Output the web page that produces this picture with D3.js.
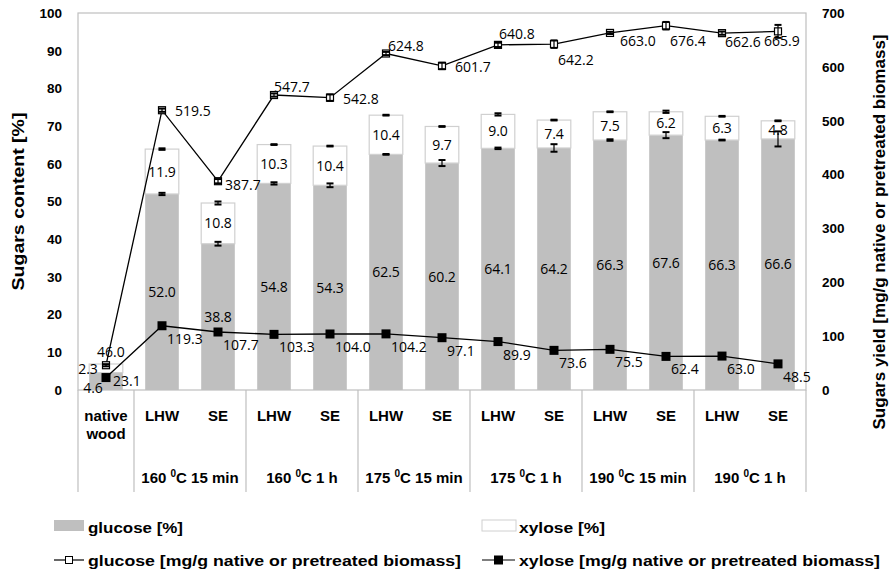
<!DOCTYPE html>
<html>
<head>
<meta charset="utf-8">
<script src="https://cdn.jsdelivr.net/npm/d3@7"></script>
<style>
  body { margin: 0; background: #fff; }
  svg { display: block; }
  .tick-lbl { font-family: "Liberation Sans", Arial, sans-serif; font-weight: bold; font-size: 13.5px; fill: #000; }
  .val { font-family: "Open Sans", sans-serif; font-size: 14px; fill: #000; }
  .cat { font-family: "Liberation Sans", Arial, sans-serif; font-weight: bold; font-size: 15px; fill: #000; }
  .leg { font-family: "Liberation Sans", Arial, sans-serif; font-weight: bold; font-size: 15.5px; fill: #000; }
  .ttl { font-family: "Liberation Sans", Arial, sans-serif; font-weight: bold; font-size: 17px; fill: #000; }
</style>
</head>
<body>
<div id="chart"></div>
<script>
// data
const categories = ['native wood','LHW','SE','LHW','SE','LHW','SE','LHW','SE','LHW','SE','LHW','SE'];
const groups = ['160 |C 15 min','160 |C 1 h','175 |C 15 min','175 |C 1 h','190 |C 15 min','190 |C 1 h'];
const glucosePct = [4.6, 52.0, 38.8, 54.8, 54.3, 62.5, 60.2, 64.1, 64.2, 66.3, 67.6, 66.3, 66.6];
const xylosePct  = [2.3, 11.9, 10.8, 10.3, 10.4, 10.4, 9.7, 9.0, 7.4, 7.5, 6.2, 6.3, 4.8];
const glucosePctErr = [0, 0.3, 0.5, 0.3, 0.5, 0.1, 0.8, 0.2, 1.0, 0.2, 0.8, 0.1, 2.0];
const xylosePctErr  = [0, 0.2, 0.4, 0.1, 0.1, 0.1, 0.1, 0.3, 0.1, 0.1, 0.3, 0.1, 0.1];
const glucoseYield = [46.0, 519.5, 387.7, 547.7, 542.8, 624.8, 601.7, 640.8, 642.2, 663.0, 676.4, 662.6, 665.9];
const xyloseYield  = [23.1, 119.3, 107.7, 103.3, 104.0, 104.2, 97.1, 89.9, 73.6, 75.5, 62.4, 63.0, 48.5];
const glucoseYieldErr = [2, 3, 4, 3, 6, 3, 6, 4, 7, 2, 7, 3, 12];
const leftTicks = d3.range(0, 101, 10);
const rightTicks = d3.range(0, 701, 100);

const width = 891, height = 573;
const marginLeft = 78, marginRight = 85, marginTop = 13, plotBottom = 390, catBottom = 492;

const svg = d3.select('#chart').append('svg')
  .attr('width', width).attr('height', height);

const idx = d3.range(categories.length);
const x = d3.scaleBand().domain(idx).range([marginLeft, width - marginRight]).paddingInner(0.4).paddingOuter(0.2);
const xc = i => x(i) + x.bandwidth() / 2;
const step = x.step();
const yL = d3.scaleLinear().domain([0, 100]).range([plotBottom, marginTop]);
const yR = d3.scaleLinear().domain([0, 700]).range([plotBottom, marginTop]);

// plot frame
svg.append('rect')
  .attr('x', marginLeft).attr('y', marginTop)
  .attr('width', width - marginRight - marginLeft).attr('height', plotBottom - marginTop)
  .attr('fill', 'none').attr('stroke', '#bfbfbf').attr('stroke-width', 1.2);

// category box lines
const seps = [0, 1, 3, 5, 7, 9, 11, 13];
svg.selectAll('.sep').data(seps).enter().append('line')
  .attr('x1', d => marginLeft + d * step).attr('x2', d => marginLeft + d * step)
  .attr('y1', plotBottom).attr('y2', catBottom)
  .attr('stroke', '#bfbfbf').attr('stroke-width', 1.2);

// axes
const axL = svg.append('g').attr('transform', `translate(${marginLeft},0)`)
  .call(d3.axisLeft(yL).tickValues(leftTicks).tickSize(0).tickPadding(16));
axL.select('.domain').remove();
axL.selectAll('text').attr('class', 'tick-lbl').attr('font-family', null).attr('font-size', null);

const axR = svg.append('g').attr('transform', `translate(${width - marginRight},0)`)
  .call(d3.axisRight(yR).tickValues(rightTicks).tickSize(0).tickPadding(16));
axR.select('.domain').remove();
axR.selectAll('text').attr('class', 'tick-lbl').attr('font-family', null).attr('font-size', null);

// axis titles
svg.append('text').attr('class', 'ttl')
  .attr('transform', `translate(24,${(marginTop + plotBottom) / 2}) rotate(-90)`)
  .attr('text-anchor', 'middle')
  .attr('textLength', 178).attr('lengthAdjust', 'spacingAndGlyphs')
  .text('Sugars content [%]');
svg.append('text').attr('class', 'ttl')
  .attr('transform', `translate(885,232) rotate(-90)`)
  .attr('text-anchor', 'middle')
  .attr('textLength', 395).attr('lengthAdjust', 'spacingAndGlyphs')
  .text('Sugars yield [mg/g native or pretreated biomass]');

// stacked bars
svg.selectAll('.bar-g').data(idx).enter().append('rect')
  .attr('x', i => x(i)).attr('width', x.bandwidth())
  .attr('y', i => yL(glucosePct[i])).attr('height', i => plotBottom - yL(glucosePct[i]))
  .attr('fill', '#bfbfbf');
svg.selectAll('.bar-x').data(idx).enter().append('rect')
  .attr('x', i => x(i)).attr('width', x.bandwidth())
  .attr('y', i => yL(glucosePct[i] + xylosePct[i])).attr('height', i => yL(glucosePct[i]) - yL(glucosePct[i] + xylosePct[i]))
  .attr('fill', '#fff').attr('stroke', '#d0d0d0').attr('stroke-width', 1.2);

// error bars helper
function errBar(cx, yTop, yBot, cap) {
  const g = svg.append('g').attr('stroke', '#000').attr('stroke-width', 1.2);
  g.append('line').attr('x1', cx).attr('x2', cx).attr('y1', yTop).attr('y2', yBot);
  g.append('line').attr('x1', cx - cap).attr('x2', cx + cap).attr('y1', yTop).attr('y2', yTop).attr('stroke-width', 2);
  g.append('line').attr('x1', cx - cap).attr('x2', cx + cap).attr('y1', yBot).attr('y2', yBot).attr('stroke-width', 2);
}
idx.forEach(i => {
  if (i === 0) return;
  errBar(xc(i), yL(glucosePct[i] + glucosePctErr[i]), yL(glucosePct[i] - glucosePctErr[i]), 3.5);
  const t = glucosePct[i] + xylosePct[i];
  errBar(xc(i), yL(t + xylosePctErr[i]), yL(t - xylosePctErr[i]), 3.5);
});

// bar value labels
svg.selectAll('.lbl-g').data(idx).enter().append('text')
  .attr('class', 'val').attr('text-anchor', 'middle')
  .attr('x', i => i === 0 ? xc(i) - 13 : xc(i))
  .attr('y', i => i === 0 ? plotBottom + 3 : yL(glucosePct[i] / 2) + 5)
  .text(i => glucosePct[i].toFixed(1));
svg.selectAll('.lbl-x').data(idx).enter().append('text')
  .attr('class', 'val').attr('text-anchor', 'middle')
  .attr('x', i => i === 0 ? xc(i) - 18 : xc(i))
  .attr('y', i => i === 0 ? yL(4.6) + 1 : yL(glucosePct[i] + xylosePct[i] / 2) + 5)
  .text(i => xylosePct[i].toFixed(1));

// lines
const lineG = d3.line().x(i => xc(i)).y(i => yR(glucoseYield[i]));
const lineX = d3.line().x(i => xc(i)).y(i => yR(xyloseYield[i]));
svg.append('path').attr('d', lineG(idx)).attr('fill', 'none').attr('stroke', '#000').attr('stroke-width', 1.3);
svg.append('path').attr('d', lineX(idx)).attr('fill', 'none').attr('stroke', '#000').attr('stroke-width', 1.3);

// glucose yield markers + error bars
svg.selectAll('.mk-g').data(idx).enter().append('rect')
  .attr('x', i => xc(i) - 3.5).attr('y', i => yR(glucoseYield[i]) - 3.5)
  .attr('width', 7).attr('height', 7)
  .attr('fill', '#fff').attr('stroke', '#000').attr('stroke-width', 1.2);
idx.forEach(i => {
  errBar(xc(i), yR(glucoseYield[i] + glucoseYieldErr[i]), yR(glucoseYield[i] - glucoseYieldErr[i]), 3.5);
});
// xylose yield markers
svg.selectAll('.mk-x').data(idx).enter().append('rect')
  .attr('x', i => xc(i) - 4.5).attr('y', i => yR(xyloseYield[i]) - 4.5)
  .attr('width', 9).attr('height', 9).attr('fill', '#000');

// yield labels (placement: dx, dy relative to marker)
const gPlace = [[-9,-8],[13,6],[7,9],[0,-3],[13,6],[2,-3],[13,6],[1,-6],[4,21],[10,13],[4,20],[3,14],[-14,15]];
svg.selectAll('.lbl-gy').data(idx).enter().append('text')
  .attr('class', 'val')
  .attr('x', i => xc(i) + gPlace[i][0]).attr('y', i => yR(glucoseYield[i]) + gPlace[i][1])
  .text(i => glucoseYield[i].toFixed(1));
svg.selectAll('.lbl-xy').data(idx).enter().append('text')
  .attr('class', 'val')
  .attr('x', i => xc(i) + (i === 0 ? 7 : 5)).attr('y', i => yR(xyloseYield[i]) + (i === 0 ? 8 : 18))
  .text(i => xyloseYield[i].toFixed(1));

// category labels
svg.selectAll('.cat-l').data(idx.slice(1)).enter().append('text')
  .attr('class', 'cat').attr('text-anchor', 'middle')
  .attr('x', i => xc(i)).attr('y', 421).text(i => categories[i]);
const nw = svg.append('text').attr('class', 'cat').attr('text-anchor', 'middle');
categories[0].split(' ').forEach((w, k) => {
  nw.append('tspan').attr('x', xc(0)).attr('y', 421 + k * 18).text(w);
});
svg.selectAll('.grp').data(groups).enter().append('text')
  .attr('class', 'cat').attr('text-anchor', 'middle')
  .attr('x', (d, k) => marginLeft + (2 + 2 * k) * step).attr('y', 483)
  .each(function(d) {
    const parts = d.split('|');
    const t = d3.select(this);
    t.append('tspan').text(parts[0]);
    t.append('tspan').attr('dy', -6).style('font-size', '10px').text('0');
    t.append('tspan').attr('dy', 6).text(parts[1]);
  });

// legend
const leg = svg.append('g');
leg.append('rect').attr('x', 54).attr('y', 520).attr('width', 30).attr('height', 11).attr('fill', '#bfbfbf');
leg.append('text').attr('class', 'leg').attr('x', 88).attr('y', 533)
  .attr('textLength', 95).attr('lengthAdjust', 'spacingAndGlyphs').text('glucose [%]');
leg.append('rect').attr('x', 482).attr('y', 520).attr('width', 34).attr('height', 11)
  .attr('fill', '#fff').attr('stroke', '#d0d0d0');
leg.append('text').attr('class', 'leg').attr('x', 519).attr('y', 533)
  .attr('textLength', 86).attr('lengthAdjust', 'spacingAndGlyphs').text('xylose [%]');

leg.append('line').attr('x1', 54).attr('x2', 84).attr('y1', 560).attr('y2', 560).attr('stroke', '#000').attr('stroke-width', 1.2);
leg.append('rect').attr('x', 65.5).attr('y', 556.5).attr('width', 7).attr('height', 7)
  .attr('fill', '#fff').attr('stroke', '#000');
leg.append('text').attr('class', 'leg').attr('x', 88).attr('y', 566)
  .attr('textLength', 373).attr('lengthAdjust', 'spacingAndGlyphs')
  .text('glucose [mg/g native or pretreated biomass]');
leg.append('line').attr('x1', 482).attr('x2', 515).attr('y1', 560).attr('y2', 560).attr('stroke', '#000').attr('stroke-width', 1.2);
leg.append('rect').attr('x', 494).attr('y', 555.5).attr('width', 9).attr('height', 9).attr('fill', '#000');
leg.append('text').attr('class', 'leg').attr('x', 519).attr('y', 566)
  .attr('textLength', 361).attr('lengthAdjust', 'spacingAndGlyphs')
  .text('xylose [mg/g native or pretreated biomass]');
</script>
</body>
</html>
